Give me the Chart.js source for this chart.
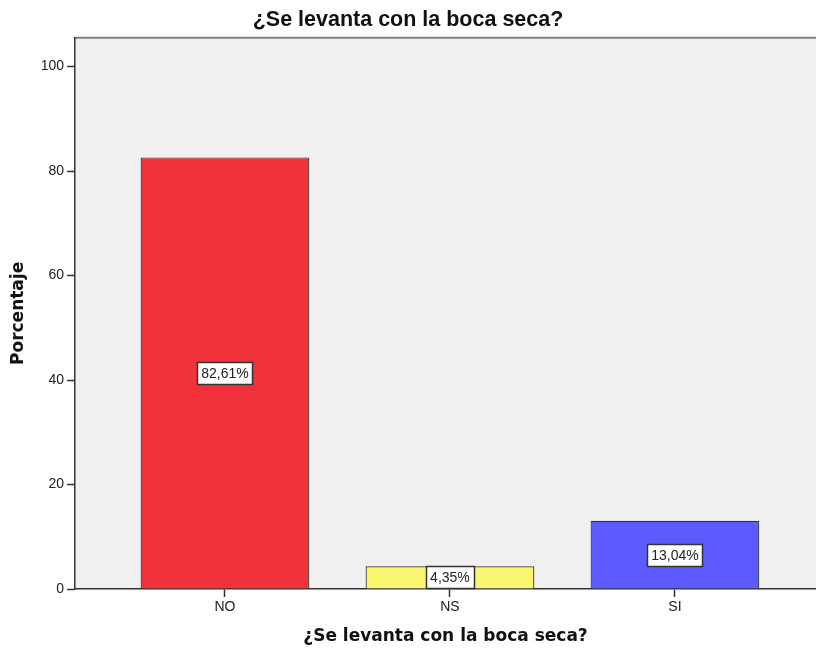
<!DOCTYPE html>
<html>
<head>
<meta charset="utf-8">
<script src="https://cdn.jsdelivr.net/npm/chart.js@4.4.0/dist/chart.umd.min.js"></script>
<style>
  html, body { margin: 0; padding: 0; background: #fff; overflow: hidden; }
  #wrap { width: 816px; height: 653px; position: relative; }
</style>
</head>
<body>
<div id="wrap"><canvas id="myChart" width="816" height="653"></canvas></div>
<script>
const categories = ['NO', 'NS', 'SI'];
const porcentajes = [82.61, 4.35, 13.04];
const etiquetas = ['82,61%', '4,35%', '13,04%'];
const yTicks = [0, 20, 40, 60, 80, 100];
const colores = ['#F0323A', '#FAF56E', '#5B5BFF'];

// fondo gris del area del grafico + borde superior
const fondo = {
  id: 'fondo',
  beforeDraw(chart) {
    const { ctx, chartArea: a } = chart;
    ctx.save();
    ctx.fillStyle = '#F0F0F0';
    ctx.fillRect(a.left, a.top, a.right - a.left, a.bottom - a.top);
    ctx.strokeStyle = '#7F7F7F';
    ctx.lineWidth = 2;
    ctx.beginPath();
    ctx.moveTo(a.left, a.top);
    ctx.lineTo(a.right, a.top);
    ctx.stroke();
    ctx.restore();
  }
};

// cajas con el porcentaje en el centro de cada barra
const cajas = {
  id: 'cajas',
  afterDatasetsDraw(chart) {
    const { ctx } = chart;
    const meta = chart.getDatasetMeta(0);
    ctx.save();
    ctx.font = '14px "Liberation Sans", Arial, sans-serif';
    ctx.textAlign = 'center';
    ctx.textBaseline = 'middle';
    meta.data.forEach((bar, i) => {
      const cx = bar.x;
      const cy = (bar.y + bar.base) / 2;
      const w = Math.round(ctx.measureText(etiquetas[i]).width + 8);
      const h = 22;
      const x0 = Math.round(cx - w / 2) + 0.5;
      const y0 = Math.round(cy - h / 2) + 0.5;
      ctx.fillStyle = '#fff';
      ctx.fillRect(x0, y0, w, h);
      ctx.strokeStyle = '#333';
      ctx.lineWidth = 1.5;
      ctx.strokeRect(x0, y0, w, h);
      ctx.fillStyle = '#222';
      ctx.fillText(etiquetas[i], cx, cy + 1);
    });
    ctx.restore();
  }
};

const ctx = document.getElementById('myChart').getContext('2d');
const myChart = new Chart(ctx, {
  type: 'bar',
  data: {
    datasets: [{
      data: porcentajes.map((v, i) => ({ x: i + 1, y: v })),
      backgroundColor: colores,
      borderColor: '#333',
      borderWidth: 1.2,
      categoryPercentage: 1,
      barPercentage: 0.75
    }]
  },
  options: {
    responsive: false,
    animation: false,
    layout: { padding: 0 },
    plugins: {
      legend: { display: false },
      tooltip: { enabled: false },
      title: {
        display: true,
        text: '¿Se levanta con la boca seca?',
        color: '#111',
        font: { family: '"Liberation Sans", Arial, sans-serif', size: 21.5, weight: 'bold' },
        padding: { top: 7, bottom: 5 }
      }
    },
    scales: {
      x: {
        type: 'linear',
        offset: false,
        min: 0.3333,
        max: 3.627,
        afterBuildTicks(scale) {
          scale.ticks = categories.map((c, i) => ({ value: i + 1 }));
        },
        afterFit(scale) { scale.height = 64; },
        ticks: {
          callback: (v) => categories[v - 1],
          color: '#222',
          font: { family: '"Liberation Sans", Arial, sans-serif', size: 14 },
          padding: 2,
          maxRotation: 0
        },
        grid: { offset: false, drawOnChartArea: false, tickLength: 8, tickColor: '#333', tickWidth: 1.5 },
        border: { color: '#333', width: 1.5 },
        title: {
          display: true,
          text: '¿Se levanta con la boca seca?',
          color: '#111',
          font: { family: '"DejaVu Sans", sans-serif', size: 17, weight: 'bold' },
          padding: { top: 0, bottom: 6 }
        }
      },
      y: {
        min: 0,
        max: 105.5,
        afterBuildTicks(scale) {
          scale.ticks = yTicks.map(v => ({ value: v }));
        },
        afterFit(scale) { scale.width = 75; },
        ticks: {
          color: '#222',
          font: { family: '"Liberation Sans", Arial, sans-serif', size: 14 },
          padding: 3
        },
        grid: { drawOnChartArea: false, tickLength: 8, tickColor: '#333', tickWidth: 1.5 },
        border: { color: '#333', width: 1.5 },
        title: {
          display: true,
          text: 'Porcentaje',
          color: '#111',
          font: { family: '"DejaVu Sans", sans-serif', size: 17, weight: 'bold' },
          padding: { top: 8, bottom: 0 }
        }
      }
    }
  },
  plugins: [fondo, cajas]
});
</script>
</body>
</html>
